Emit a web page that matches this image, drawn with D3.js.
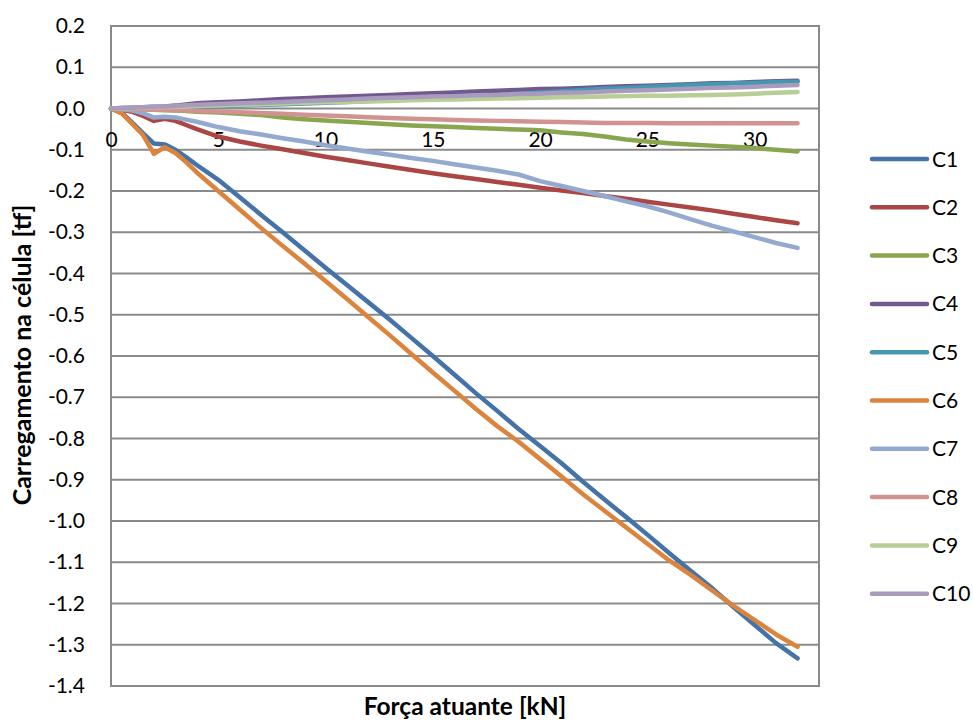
<!DOCTYPE html>
<html>
<head>
<meta charset="utf-8">
<script src="https://cdn.jsdelivr.net/npm/d3@7"></script>
<style>
  html, body { margin: 0; padding: 0; background: #fff; }
  svg { display: block; }
  text { font-family: Lato, "Open Sans", sans-serif; fill: #000; }
</style>
</head>
<body>
<svg id="chart" width="973" height="720"></svg>
<script>
// ---- data ----
const xValues = [0, 0.5, 1, 1.5, 2, 2.5, 3, 3.5, 4, 5, 6, 7, 8, 9, 10, 11, 12, 13, 14, 15, 16, 17, 18, 19, 20, 21, 22, 23, 24, 25, 26, 27, 28, 29, 30, 31, 32];
const seriesNames = ["C1", "C2", "C3", "C4", "C5", "C6", "C7", "C8", "C9", "C10"];
const seriesColors = ["#4572A7", "#AA4643", "#89A54E", "#71588F", "#4198AF", "#DB843D", "#93A9CF", "#D19392", "#B9CD96", "#A99BBD"];
const C1 = [0, -0.01, -0.035, -0.06, -0.085, -0.087, -0.1, -0.118, -0.137, -0.173, -0.215, -0.258, -0.3, -0.343, -0.386, -0.428, -0.47, -0.512, -0.556, -0.6, -0.645, -0.69, -0.733, -0.777, -0.818, -0.86, -0.905, -0.948, -0.99, -1.033, -1.077, -1.12, -1.162, -1.208, -1.252, -1.296, -1.333];
const C2 = [0, -0.003, -0.008, -0.018, -0.03, -0.025, -0.03, -0.04, -0.05, -0.068, -0.08, -0.09, -0.099, -0.108, -0.117, -0.125, -0.133, -0.141, -0.149, -0.157, -0.164, -0.171, -0.178, -0.185, -0.192, -0.199, -0.205, -0.212, -0.219, -0.226, -0.233, -0.24, -0.247, -0.255, -0.263, -0.271, -0.278];
const C3 = [0, -0.001, -0.001, -0.002, -0.003, -0.004, -0.005, -0.006, -0.008, -0.01, -0.013, -0.016, -0.022, -0.026, -0.029, -0.032, -0.035, -0.038, -0.041, -0.043, -0.045, -0.047, -0.049, -0.051, -0.053, -0.058, -0.062, -0.068, -0.075, -0.08, -0.084, -0.087, -0.09, -0.093, -0.096, -0.1, -0.104];
const C4 = [0, 0.001, 0.002, 0.003, 0.004, 0.005, 0.007, 0.01, 0.013, 0.015, 0.017, 0.02, 0.023, 0.025, 0.027, 0.029, 0.031, 0.033, 0.035, 0.037, 0.039, 0.041, 0.043, 0.045, 0.047, 0.048, 0.05, 0.052, 0.054, 0.055, 0.057, 0.059, 0.061, 0.062, 0.064, 0.066, 0.067];
const C5 = [0, 0, 0.001, 0.001, 0.002, 0.002, 0.003, 0.004, 0.005, 0.006, 0.007, 0.009, 0.01, 0.012, 0.014, 0.016, 0.018, 0.02, 0.022, 0.025, 0.027, 0.03, 0.033, 0.036, 0.039, 0.042, 0.045, 0.048, 0.05, 0.052, 0.055, 0.057, 0.059, 0.061, 0.062, 0.064, 0.065];
const C6 = [0, -0.012, -0.038, -0.065, -0.11, -0.094, -0.108, -0.13, -0.155, -0.2, -0.245, -0.29, -0.333, -0.375, -0.418, -0.462, -0.506, -0.55, -0.595, -0.64, -0.684, -0.728, -0.77, -0.808, -0.85, -0.892, -0.935, -0.975, -1.015, -1.055, -1.095, -1.13, -1.168, -1.205, -1.24, -1.275, -1.305];
const C7 = [0, -0.002, -0.005, -0.012, -0.022, -0.02, -0.022, -0.027, -0.032, -0.045, -0.055, -0.063, -0.072, -0.08, -0.089, -0.097, -0.105, -0.112, -0.12, -0.127, -0.135, -0.143, -0.151, -0.16, -0.176, -0.188, -0.2, -0.212, -0.225, -0.237, -0.252, -0.268, -0.284, -0.298, -0.312, -0.326, -0.338];
const C8 = [0, 0, -0.001, -0.002, -0.003, -0.003, -0.004, -0.005, -0.006, -0.007, -0.009, -0.011, -0.013, -0.015, -0.017, -0.019, -0.021, -0.023, -0.025, -0.026, -0.028, -0.029, -0.03, -0.031, -0.032, -0.033, -0.034, -0.035, -0.035, -0.035, -0.036, -0.036, -0.036, -0.036, -0.036, -0.036, -0.036];
const C9 = [0, 0, 0.001, 0.002, 0.003, 0.003, 0.004, 0.005, 0.006, 0.007, 0.009, 0.01, 0.012, 0.014, 0.015, 0.016, 0.017, 0.018, 0.02, 0.021, 0.022, 0.023, 0.024, 0.025, 0.026, 0.027, 0.028, 0.029, 0.03, 0.031, 0.031, 0.032, 0.033, 0.034, 0.036, 0.038, 0.04];
const C10 = [0, 0.001, 0.002, 0.003, 0.004, 0.005, 0.006, 0.008, 0.009, 0.011, 0.013, 0.014, 0.016, 0.018, 0.02, 0.022, 0.024, 0.026, 0.027, 0.029, 0.03, 0.032, 0.033, 0.035, 0.036, 0.038, 0.039, 0.041, 0.043, 0.044, 0.046, 0.048, 0.05, 0.051, 0.053, 0.055, 0.057];
const seriesValues = [C1, C2, C3, C4, C5, C6, C7, C8, C9, C10];
const xTicks = [0, 5, 10, 15, 20, 25, 30];
const yTicks = [0.2, 0.1, 0.0, -0.1, -0.2, -0.3, -0.4, -0.5, -0.6, -0.7, -0.8, -0.9, -1.0, -1.1, -1.2, -1.3, -1.4];
const xTitle = "Força atuante [kN]";
const yTitle = "Carregamento na célula [tf]";

// ---- layout ----
const svg = d3.select("#chart");
const plotLeft = 111, plotRight = 819, plotTop = 26, plotBottom = 686;
const x = d3.scaleLinear().domain([0, 33]).range([plotLeft, plotRight]);
const y = d3.scaleLinear().domain([-1.4, 0.2]).range([plotBottom, plotTop]);
const grid = "#8a8a8a";

// gridlines
svg.append("g").selectAll("line").data(yTicks).join("line")
  .attr("x1", plotLeft).attr("x2", plotRight)
  .attr("y1", d => y(d)).attr("y2", d => y(d))
  .attr("stroke", grid).attr("stroke-width", 2);

// plot border
svg.append("rect").attr("x", plotLeft).attr("y", plotTop)
  .attr("width", plotRight - plotLeft).attr("height", plotBottom - plotTop)
  .attr("fill", "none").attr("stroke", grid).attr("stroke-width", 2);

// y axis labels
const yAxis = d3.axisLeft(y).tickValues(yTicks).tickSize(0).tickPadding(26)
  .tickFormat(d => d3.format(".1f")(d).replace("−", "-"));
const gy = svg.append("g").attr("transform", `translate(${plotLeft},0)`).call(yAxis);
gy.select(".domain").remove();
gy.selectAll("text").style("font-family", "Lato, 'Open Sans', sans-serif").style("font-size", "21px").attr("fill", "#000");

// x axis labels at y = 0
const xAxis = d3.axisBottom(x).tickValues(xTicks).tickFormat(d3.format("d")).tickSize(0).tickPadding(24);
const gx = svg.append("g").attr("transform", `translate(0,${y(0)})`).call(xAxis);
gx.select(".domain").remove();
gx.selectAll("text").style("font-family", "Lato, 'Open Sans', sans-serif").style("font-size", "21px").attr("fill", "#000");

// lines
const line = d3.line().x((d, i) => x(xValues[i])).y(d => y(d));
svg.append("g").selectAll("path").data(seriesValues).join("path")
  .attr("d", d => line(d))
  .attr("fill", "none")
  .attr("stroke", (d, i) => seriesColors[i])
  .attr("stroke-width", 4.5)
  .attr("stroke-linejoin", "round")
  .attr("stroke-linecap", "round");

// axis titles
svg.append("text").attr("x", 465).attr("y", 715).attr("text-anchor", "middle")
  .style("font-size", "24.5px").style("font-weight", "bold").text(xTitle);
svg.append("text").attr("transform", "translate(31,355) rotate(-90)").attr("text-anchor", "middle")
  .style("font-size", "25px").style("font-weight", "bold").text(yTitle);

// legend
const lg = svg.append("g").selectAll("g").data(seriesNames).join("g")
  .attr("transform", (d, i) => `translate(872,${159 + i * 48.3})`);
lg.append("line").attr("x1", 0).attr("x2", 55).attr("y1", 0).attr("y2", 0)
  .attr("stroke", (d, i) => seriesColors[i]).attr("stroke-width", 4.5).attr("stroke-linecap", "round");
lg.append("text").attr("x", 60).attr("y", 0).attr("dy", "0.36em")
  .style("font-size", "21px").text(d => d);
</script>
</body>
</html>
